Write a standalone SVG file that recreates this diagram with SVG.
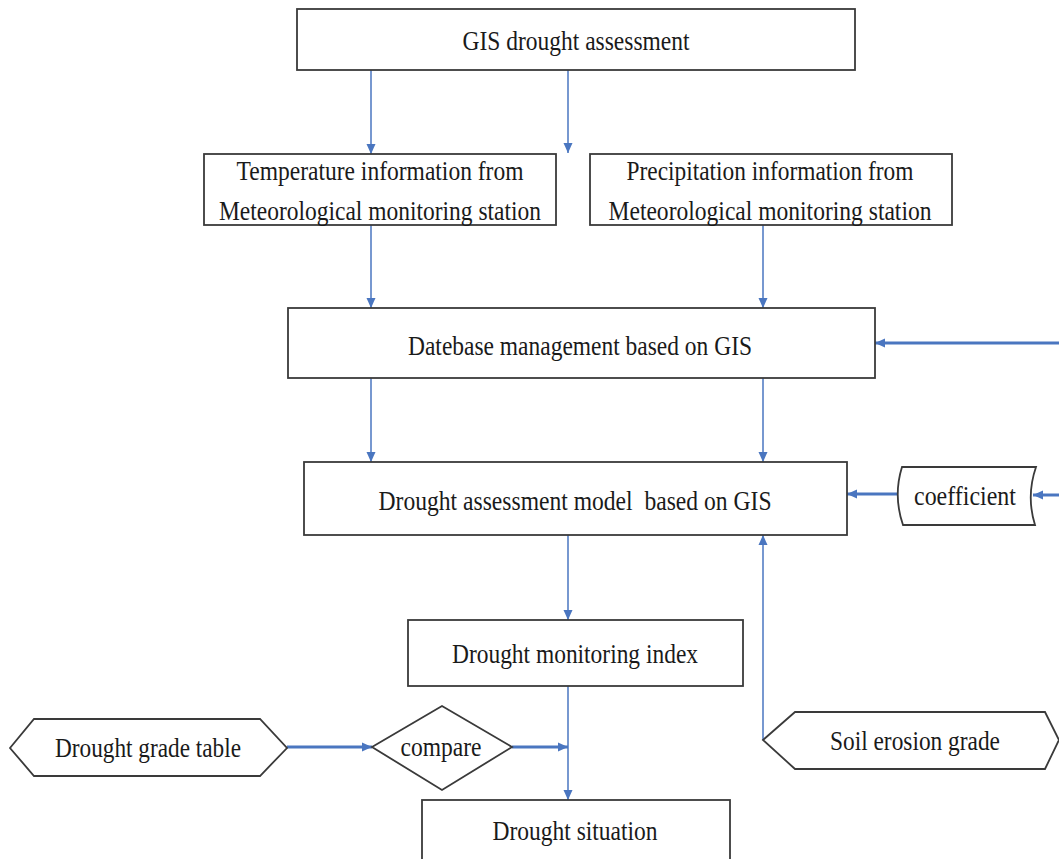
<svg xmlns="http://www.w3.org/2000/svg" width="1059" height="859" viewBox="0 0 1059 859">
<style>
.box{fill:#fff;stroke:#3a3a3a;stroke-width:1.8}
.t{font-family:"Liberation Serif","Times New Roman",serif;font-size:28px;fill:#1a1a1a;text-anchor:middle}
.c{fill:none;stroke:#4a76c0;stroke-width:1.5}
.ct{fill:none;stroke:#4a76c0;stroke-width:3}
</style>
<defs>
<marker id="ah" markerUnits="userSpaceOnUse" markerWidth="10" markerHeight="10" refX="10" refY="4.5" orient="auto" viewBox="0 0 10 9">
<path d="M0,0 L10,4.5 L0,9 Z" fill="#4a76c0"/>
</marker>
</defs>
<rect width="1059" height="859" fill="#fff"/>
<g id="connectors">
<line class="c" x1="371" y1="70" x2="371" y2="154" marker-end="url(#ah)"/>
<line class="c" x1="568" y1="70" x2="568" y2="153" marker-end="url(#ah)"/>
<line class="c" x1="371" y1="225" x2="371" y2="308" marker-end="url(#ah)"/>
<line class="c" x1="763" y1="225" x2="763" y2="308" marker-end="url(#ah)"/>
<line class="ct" x1="1059" y1="343" x2="875" y2="343" marker-end="url(#ah)"/>
<line class="c" x1="371" y1="378" x2="371" y2="462" marker-end="url(#ah)"/>
<line class="c" x1="763" y1="378" x2="763" y2="462" marker-end="url(#ah)"/>
<line class="ct" x1="897" y1="494" x2="847" y2="494" marker-end="url(#ah)"/>
<line class="ct" x1="1059" y1="495" x2="1033" y2="495" marker-end="url(#ah)"/>
<line class="c" x1="568" y1="535" x2="568" y2="620" marker-end="url(#ah)"/>
<line class="c" x1="763" y1="740" x2="763" y2="535" marker-end="url(#ah)"/>
<line class="c" x1="568" y1="686" x2="568" y2="800" marker-end="url(#ah)"/>
<line class="ct" x1="287" y1="747" x2="372" y2="747" marker-end="url(#ah)"/>
<line class="ct" x1="512" y1="747" x2="568" y2="747" marker-end="url(#ah)"/>
</g>
<g id="gis">
<rect class="box" x="297" y="9" width="558" height="61"/>
<text class="t" x="576" y="50" textLength="227" lengthAdjust="spacingAndGlyphs">GIS drought assessment</text>
</g>
<g id="temperature">
<rect class="box" x="204" y="154" width="352" height="71"/>
<text class="t" x="380" y="180" textLength="287" lengthAdjust="spacingAndGlyphs">Temperature information from</text>
<text class="t" x="380" y="220" textLength="322" lengthAdjust="spacingAndGlyphs">Meteorological monitoring station</text>
</g>
<g id="precipitation">
<rect class="box" x="590" y="154" width="362" height="71"/>
<text class="t" x="770" y="180" textLength="287" lengthAdjust="spacingAndGlyphs">Precipitation information from</text>
<text class="t" x="770" y="220" textLength="323" lengthAdjust="spacingAndGlyphs">Meteorological monitoring station</text>
</g>
<g id="database">
<rect class="box" x="288" y="308" width="587" height="70"/>
<text class="t" x="580" y="355" textLength="344" lengthAdjust="spacingAndGlyphs">Datebase management based on GIS</text>
</g>
<g id="model">
<rect class="box" x="304" y="462" width="543" height="73"/>
<text class="t" x="575" y="510" textLength="393" lengthAdjust="spacingAndGlyphs" xml:space="preserve">Drought assessment model  based on GIS</text>
</g>
<g id="coefficient">
<path class="box" d="M902,467 L1036,467 Q1026,496 1035,525 L903,525 Q893,496 902,467 Z"/>
<text class="t" x="965" y="505" textLength="102" lengthAdjust="spacingAndGlyphs">coefficient</text>
</g>
<g id="index">
<rect class="box" x="408" y="620" width="335" height="66"/>
<text class="t" x="575" y="663" textLength="246" lengthAdjust="spacingAndGlyphs">Drought monitoring index</text>
</g>
<g id="grade-table">
<path class="box" d="M10,748 L34,719 L260,719 L287,748 L260,776 L34,776 Z"/>
<text class="t" x="148" y="757" textLength="186" lengthAdjust="spacingAndGlyphs">Drought grade table</text>
</g>
<g id="compare">
<path class="box" d="M372,747 L442,706 L512,747 L442,790 Z"/>
<text class="t" x="441" y="756" textLength="81" lengthAdjust="spacingAndGlyphs">compare</text>
</g>
<g id="soil">
<path class="box" d="M763,740 L795,712 L1045,712 L1059,740 L1045,769 L795,769 Z"/>
<text class="t" x="915" y="750" textLength="170" lengthAdjust="spacingAndGlyphs">Soil erosion grade</text>
</g>
<g id="situation">
<rect class="box" x="422" y="800" width="308" height="62"/>
<text class="t" x="575" y="840" textLength="165" lengthAdjust="spacingAndGlyphs">Drought situation</text>
</g>
</svg>
